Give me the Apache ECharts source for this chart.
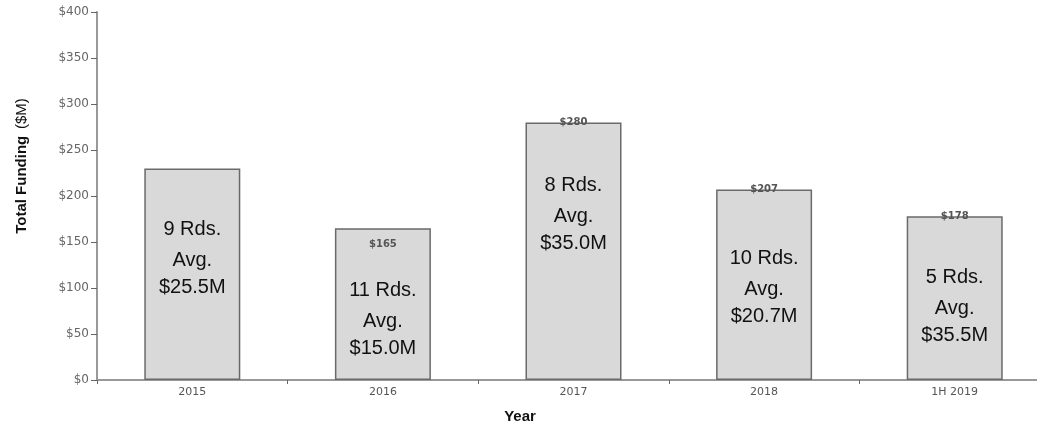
<!DOCTYPE html>
<html>
<head>
<meta charset="utf-8">
<script src="https://cdn.jsdelivr.net/npm/echarts@6/dist/echarts.min.js"></script>
<style>html,body{margin:0;padding:0;background:#fff}#c{width:1037px;height:424px}</style>
</head>
<body>
<div id="c"></div>
<script>
var categories = ['2015', '2016', '2017', '2018', '1H 2019'];
var totals = [230, 165, 280, 207, 178];
var rounds = [9, 11, 8, 10, 5];
var avgs = ['25.5', '15.0', '35.0', '20.7', '35.5'];
var showTotal = [false, true, true, true, true];
var yTicks = { min: 0, max: 400, interval: 50 };

// layout tweaks (pixels), not data
var innerOffsets = [-18, 13, -39, 1, 6];
var topInside = [false, true, false, false, false];

var FONT = '"Liberation Sans", Arial, sans-serif';
var TICKFONT = '"DejaVu Sans", sans-serif';
var chart = echarts.init(document.getElementById('c'));

var mainData = totals.map(function (v, i) {
  return {
    value: v,
    label: {
      show: true,
      position: 'inside',
      offset: [0, innerOffsets[i]],
      formatter: '{a|' + rounds[i] + ' Rds.}\n{b|Avg.}\n{b|$' + avgs[i] + 'M}',
      rich: {
        a: { fontSize: 20, fontFamily: FONT, color: '#111', lineHeight: 35, align: 'center' },
        b: { fontSize: 20, fontFamily: FONT, color: '#111', lineHeight: 27, align: 'center' }
      }
    }
  };
});

var topData = totals.map(function (v, i) {
  return {
    value: v,
    label: {
      show: showTotal[i],
      position: topInside[i] ? 'insideTop' : 'top',
      distance: topInside[i] ? 11 : -5,
      formatter: '$' + v,
      fontSize: 10,
      fontWeight: 'bold',
      fontFamily: TICKFONT,
      color: '#555'
    }
  };
});

chart.setOption({
  animation: false,
  backgroundColor: '#fff',
  grid: { left: 97, width: 953, top: 12, bottom: 44, containLabel: false, outerBoundsMode: 'none' },
  xAxis: {
    type: 'category',
    data: categories,
    name: 'Year',
    nameLocation: 'middle',
    nameGap: 29,
    nameTextStyle: { fontSize: 15, fontWeight: 'bold', fontFamily: FONT, color: '#111', padding: [0, 107, 0, 0] },
    axisLine: { show: true, lineStyle: { color: '#999', width: 2 } },
    axisTick: { show: true, length: 4, lineStyle: { color: '#666', width: 1 } },
    axisLabel: { fontSize: 11, fontFamily: TICKFONT, color: '#555', margin: 7 }
  },
  yAxis: {
    type: 'value',
    min: yTicks.min,
    max: yTicks.max,
    interval: yTicks.interval,
    name: '{b|Total Funding}  {n|($M)}',
    nameLocation: 'middle',
    nameGap: 68,
    nameTextStyle: {
      padding: [0, 0, 0, 60],
      rich: {
        b: { fontSize: 15, fontWeight: 'bold', fontFamily: FONT, color: '#111' },
        n: { fontSize: 15, fontFamily: FONT, color: '#111' }
      }
    },
    axisLine: { show: true, lineStyle: { color: '#999', width: 2 } },
    axisTick: { show: true, length: 6, lineStyle: { color: '#666', width: 1 } },
    axisLabel: {
      fontSize: 12, fontFamily: TICKFONT, color: '#666', margin: 8,
      formatter: function (v) { return '$' + v; }
    },
    splitLine: { show: false }
  },
  series: [
    {
      type: 'bar',
      data: mainData,
      barWidth: 96,
      itemStyle: { color: '#d9d9d9', borderColor: '#6a6a6a', borderWidth: 1.5 },
      z: 2
    },
    {
      type: 'bar',
      data: topData,
      barWidth: 96,
      barGap: '-100%',
      itemStyle: { color: 'rgba(0,0,0,0)', borderWidth: 0 },
      z: 3,
      silent: true
    }
  ]
});
</script>
</body>
</html>
